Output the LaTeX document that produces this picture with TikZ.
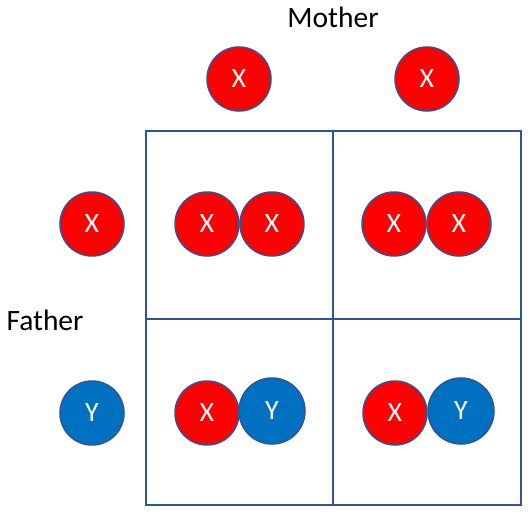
\documentclass[tikz,border=0pt]{standalone}
\usepackage{fontspec}
\setmainfont{Carlito}
\definecolor{xred}{HTML}{FF0000}
\definecolor{yblue}{HTML}{0070C0}
\definecolor{edge}{HTML}{2F5597}
\begin{document}
\begin{tikzpicture}[x=1pt,y=-1pt,
  chrom/.style={circle,draw=edge,line width=1.5pt,minimum size=64pt,inner sep=0pt,text=white,font=\fontsize{28}{28}\selectfont},
  xc/.style={chrom,fill=xred},
  yc/.style={chrom,fill=yblue},
  lbl/.style={font=\fontsize{29.5}{30}\selectfont,text=black,inner sep=0pt},
  grid/.style={draw=edge,line width=1.6pt}]
\useasboundingbox (0,0) rectangle (531,514);
\fill[white] (0,0) rectangle (531,514);
% grid
\coordinate (tl) at (146,131);
\coordinate (br) at (521,505);
\draw[grid] (tl) rectangle (br);
\coordinate (vt) at (333,131);
\coordinate (vb) at (333,505);
\coordinate (hl) at (146,319);
\coordinate (hr) at (521,319);
\draw[grid] (vt) -- (vb);
\draw[grid] (hl) -- (hr);
% labels
\node[lbl] (mother) at (333,17) {Mother};
\node[lbl] (father) at (45,320) {Father};
% parents
\node[xc] (m1) at (239,79) {X};
\node[xc] (m2) at (427,79) {X};
\node[xc] (f1) at (92,224) {X};
\node[yc] (f2) at (92,413) {Y};
% cells
\node[xc] (a1) at (207,224) {X};
\node[xc] (a2) at (272,224) {X};
\node[xc] (b1) at (394,224) {X};
\node[xc] (b2) at (459,224) {X};
\node[xc] (c1) at (207,413) {X};
\node[yc,minimum size=66pt] (c2) at (272,411) {Y};
\node[xc] (d1) at (395,413) {X};
\node[yc,minimum size=66pt] (d2) at (461,411) {Y};
\end{tikzpicture}
\end{document}
